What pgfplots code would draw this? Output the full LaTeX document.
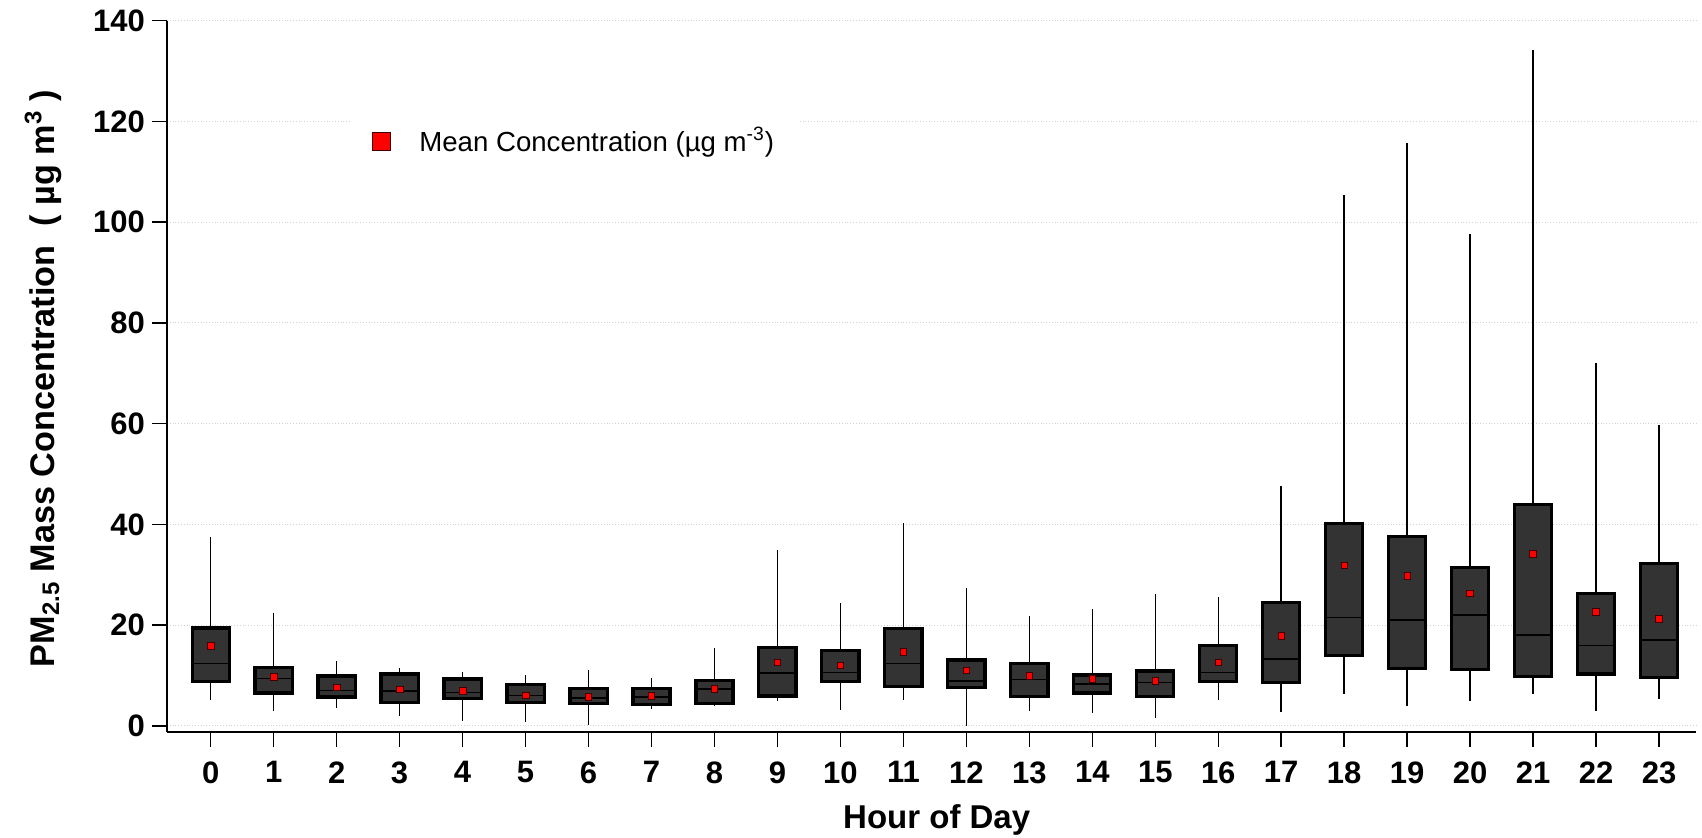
\documentclass[border=0pt]{standalone}
\usepackage{fontspec}
\setmainfont{Liberation Sans}
\usepackage{pgfplots}
\usepackage{pgfplotstable}
\pgfplotsset{compat=1.18}
\usepgfplotslibrary{statistics}
\definecolor{boxgray}{HTML}{333333}
\definecolor{meanred}{HTML}{FF0000}
\pgfplotsset{meanlegend/.style={legend image code/.code={\draw[##1, mark size=4.5pt] plot coordinates {(0pt,0pt)};}}}
\pgfplotstableread{
h mean
0 15.9
1 9.7
2 7.7
3 7.3
4 6.95
5 6.1
6 5.8
7 6.0
8 7.4
9 12.6
10 12.0
11 14.7
12 11.05
13 9.9
14 9.3
15 8.9
16 12.6
17 17.9
18 31.9
19 29.8
20 26.3
21 34.2
22 22.6
23 21.3
}\meandata
\newcommand{\bx}[6]{\addplot[forget plot, boxplot prepared={draw position=#1, lower whisker=#2, lower quartile=#3, median=#4, upper quartile=#5, upper whisker=#6}] coordinates {};}
\begin{document}
\begin{tikzpicture}
\useasboundingbox (-83.5pt,-53pt) rectangle (767.5pt,366pt);
\begin{axis}[
  at={(0pt,0pt)}, anchor=south west,
  scale only axis, width=764.5pt, height=355.65pt,
  xmin=-0.694, xmax=23.587, ymin=-1.2, ymax=140,
  axis x line*=bottom, axis y line*=left,
  axis line style={line width=0.9pt, black},
  xtick={0,...,23}, ytick={0,20,...,140},
  tick align=outside, major tick length=7.5pt,
  tick style={line width=0.75pt, black},
  ymajorgrids, grid style={densely dotted, black!18, line width=0.5pt},
  /pgf/number format/assume math mode=true,
  tick label style={font=\fontsize{15.5}{17}\selectfont\bfseries},
  xticklabel style={yshift=-3.8pt},
  xlabel={Hour of Day},
  xlabel style={at={(axis description cs:0.5034,-0.135)}, anchor=base, font=\fontsize{16.5}{18}\selectfont\bfseries},
  ylabel={PM\textsubscript{2.5} Mass Concentration\ \ ( µg m\textsuperscript{3} )},
  ylabel style={at={(axis description cs:-0.0739,0.497)}, anchor=base, font=\fontsize{17.1}{19}\selectfont\bfseries},
  boxplot/draw direction=y,
  boxplot/box extend=0.59,
  boxplot/whisker extend=0,
  boxplot/every box/.style={draw=black, line width=1.6pt, fill=boxgray},
  boxplot/every whisker/.style={black, line width=0.75pt},
  boxplot/every median/.style={black, line width=0.75pt},
  legend style={at={(axis description cs:0.121,0.8309)}, anchor=west, draw=none, fill=white,
    inner xsep=10pt, inner ysep=3pt, font=\fontsize{13.8}{16}\selectfont,
    /tikz/every odd column/.append style={column sep=12.5pt}},
]
\bx{0}{5.1}{8.9}{12.4}{19.45}{37.5}
\bx{1}{2.9}{6.55}{9.4}{11.6}{22.4}
\bx{2}{3.6}{5.75}{7.0}{9.9}{12.9}
\bx{3}{2.0}{4.6}{6.9}{10.3}{11.5}
\bx{4}{1.05}{5.4}{6.6}{9.3}{10.8}
\bx{5}{0.7}{4.7}{6.0}{8.3}{10.1}
\bx{6}{0.27}{4.5}{5.5}{7.4}{11.05}
\bx{7}{3.4}{4.2}{5.7}{7.5}{9.6}
\bx{8}{3.9}{4.5}{7.3}{9.1}{15.5}
\bx{9}{4.9}{5.95}{10.5}{15.5}{35.0}
\bx{10}{3.2}{8.8}{10.6}{14.9}{24.5}
\bx{11}{5.2}{7.9}{12.4}{19.3}{40.3}
\bx{12}{0.07}{7.7}{8.9}{13.1}{27.4}
\bx{13}{3.0}{5.8}{9.2}{12.4}{21.8}
\bx{14}{2.5}{6.55}{8.3}{10.1}{23.2}
\bx{15}{1.5}{5.8}{8.6}{10.9}{26.1}
\bx{16}{5.2}{8.9}{10.6}{15.9}{25.5}
\bx{17}{2.85}{8.6}{13.3}{24.55}{47.6}
\bx{18}{6.35}{14.0}{21.5}{40.2}{105.3}
\bx{19}{3.97}{11.4}{21.0}{37.65}{115.7}
\bx{20}{4.9}{11.25}{22.0}{31.4}{97.6}
\bx{21}{6.35}{9.8}{18.1}{43.9}{134.1}
\bx{22}{3.0}{10.3}{16.0}{26.3}{72.0}
\bx{23}{5.3}{9.65}{17.1}{32.2}{59.8}
\addplot[only marks, mark=square*, mark size=1.65pt,
  mark options={fill=meanred, draw=black!75!red, line width=0.35pt}, meanlegend]
  table[x=h, y=mean] {\meandata};
\addlegendentry{Mean Concentration (µg m\textsuperscript{-3})}
\end{axis}
\end{tikzpicture}
\end{document}
